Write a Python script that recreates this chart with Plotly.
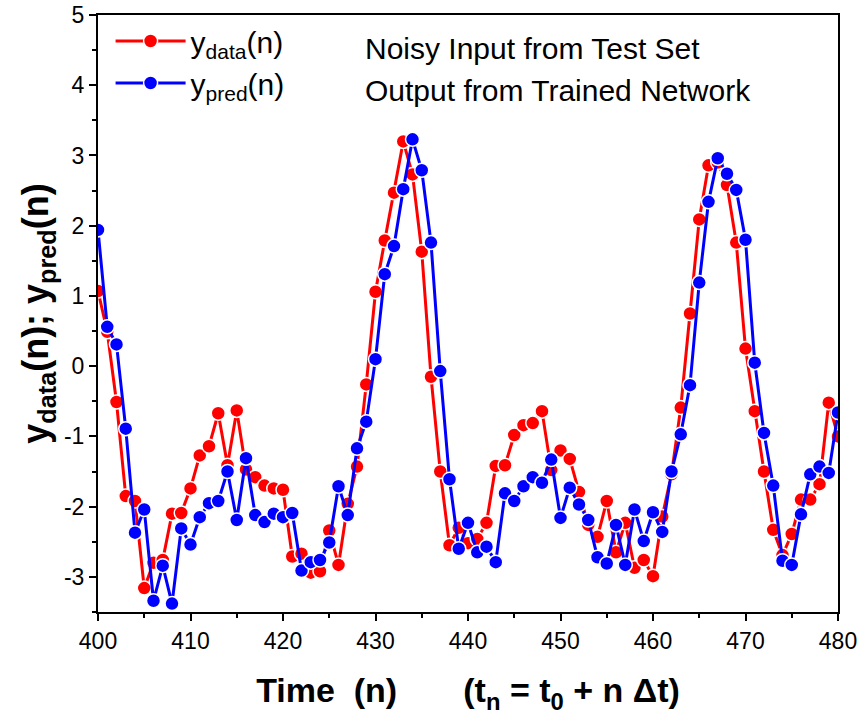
import plotly.graph_objects as go

n = list(range(400, 481))

y_data = [1.07, 0.49, -0.51, -1.85, -1.92, -3.16, -2.8, -2.76, -2.1, -2.09,
          -1.74, -1.27, -1.14, -0.67, -1.41, -0.63, -1.47, -1.58, -1.7, -1.74,
          -1.76, -2.71, -2.67, -2.94, -2.92, -2.34, -2.83, -1.96, -1.43, -0.26,
          1.06, 1.79, 2.47, 3.2, 2.73, 1.63, -0.15, -1.5, -2.55, -2.3,
          -2.52, -2.46, -2.23, -1.42, -1.41, -0.98, -0.84, -0.81, -0.64, -1.48,
          -1.2, -1.32, -1.79, -2.26, -2.43, -1.92, -2.65, -2.23, -2.87, -2.76,
          -2.99, -2.14, -1.54, -0.59, 0.75, 2.09, 2.86, 2.9, 2.58, 1.76,
          0.25, -0.64, -1.5, -2.33, -2.69, -2.39, -1.9, -1.9, -1.68, -0.52,
          -1.0]

y_pred = [1.94, 0.56, 0.31, -0.89, -2.37, -2.04, -3.34, -2.84, -3.38, -2.31,
          -2.54, -2.15, -1.95, -1.92, -1.5, -2.19, -1.31, -2.12, -2.22, -2.1,
          -2.15, -2.09, -2.91, -2.79, -2.76, -2.51, -1.71, -2.12, -1.17, -0.79,
          0.1, 1.31, 1.71, 2.52, 3.23, 2.79, 1.76, -0.07, -1.61, -2.6,
          -2.23, -2.65, -2.57, -2.79, -1.81, -1.92, -1.71, -1.58, -1.66, -1.33,
          -2.16, -1.73, -1.97, -2.19, -2.72, -2.81, -2.26, -2.83, -2.04, -2.49,
          -2.08, -2.36, -1.5, -0.97, -0.27, 1.19, 2.34, 2.96, 2.74, 2.51,
          1.8, 0.05, -0.95, -1.7, -2.77, -2.83, -2.11, -1.54, -1.43, -1.52,
          -0.66]

x_ticks = [400, 410, 420, 430, 440, 450, 460, 470, 480]
y_ticks = [-3, -2, -1, 0, 1, 2, 3, 4, 5]

legend_names = ["y<sub>data</sub>(n)", "y<sub>pred</sub>(n)"]
legend_desc = ["Noisy Input from Test Set", "Output from Trained Network"]

FONT = "Liberation Sans, Arial, sans-serif"

fig = go.Figure()
fig.add_trace(go.Scatter(
    x=n, y=y_data, mode="lines+markers", name=legend_names[0],
    line=dict(color="#FF0000", width=3),
    marker=dict(color="#FF0000", size=14, line=dict(color="white", width=1.5)),
))
fig.add_trace(go.Scatter(
    x=n, y=y_pred, mode="lines+markers", name=legend_names[1],
    line=dict(color="#0000FF", width=3),
    marker=dict(color="#0000FF", size=14, line=dict(color="white", width=1.5)),
))

for i, txt in enumerate(legend_desc):
    fig.add_annotation(
        xref="paper", yref="paper", x=0.358, y=[0.9447, 0.8727][i],
        xanchor="left", yanchor="middle", text=txt, showarrow=False,
        font=dict(family=FONT, size=30, color="black"),
    )

fig.update_layout(
    width=867, height=719,
    margin=dict(l=98, r=29, t=15, b=107),
    paper_bgcolor="white", plot_bgcolor="white",
    font=dict(family=FONT, color="black"),
    showlegend=True,
    legend=dict(
        x=0.017, y=1.0, xanchor="left", yanchor="top",
        bgcolor="rgba(0,0,0,0)", font=dict(family=FONT, size=30),
        itemwidth=70, tracegroupgap=0,
    ),
    xaxis=dict(
        range=[400, 480], tickvals=x_ticks, ticktext=[str(v) for v in x_ticks],
        showgrid=False, zeroline=False, automargin=False,
        showline=True, linecolor="black", linewidth=2, mirror=True,
        ticks="outside", ticklen=7, tickwidth=2, tickcolor="black",
        minor=dict(dtick=5, tick0=400, ticks="outside", ticklen=4, tickwidth=2, tickcolor="black"),
        tickfont=dict(family=FONT, size=23),
        title=dict(
            text="<b>Time\u00a0\u00a0(n)\u00a0\u00a0\u00a0\u00a0\u00a0\u00a0\u00a0(t<sub>n</sub> = t<sub>0</sub> + n \u0394t)</b>",
            font=dict(family=FONT, size=34), standoff=26,
        ),
    ),
    yaxis=dict(
        range=[-3.5, 5], tickvals=y_ticks, ticktext=[str(v) for v in y_ticks],
        showgrid=False, zeroline=False, automargin=False,
        showline=True, linecolor="black", linewidth=2, mirror=True,
        ticks="outside", ticklen=7, tickwidth=2, tickcolor="black",
        minor=dict(dtick=0.5, tick0=0, ticks="outside", ticklen=4, tickwidth=2, tickcolor="black"),
        tickfont=dict(family=FONT, size=23),
        title=dict(
            text="<b>y<sub>data</sub>(n); y<sub>pred</sub>(n)</b>",
            font=dict(family=FONT, size=36), standoff=4,
        ),
    ),
)

fig.write_html(
    "out.html",
    config={"displayModeBar": False},
    post_script="document.body.style.margin='0';document.body.style.overflow='hidden';",
)
